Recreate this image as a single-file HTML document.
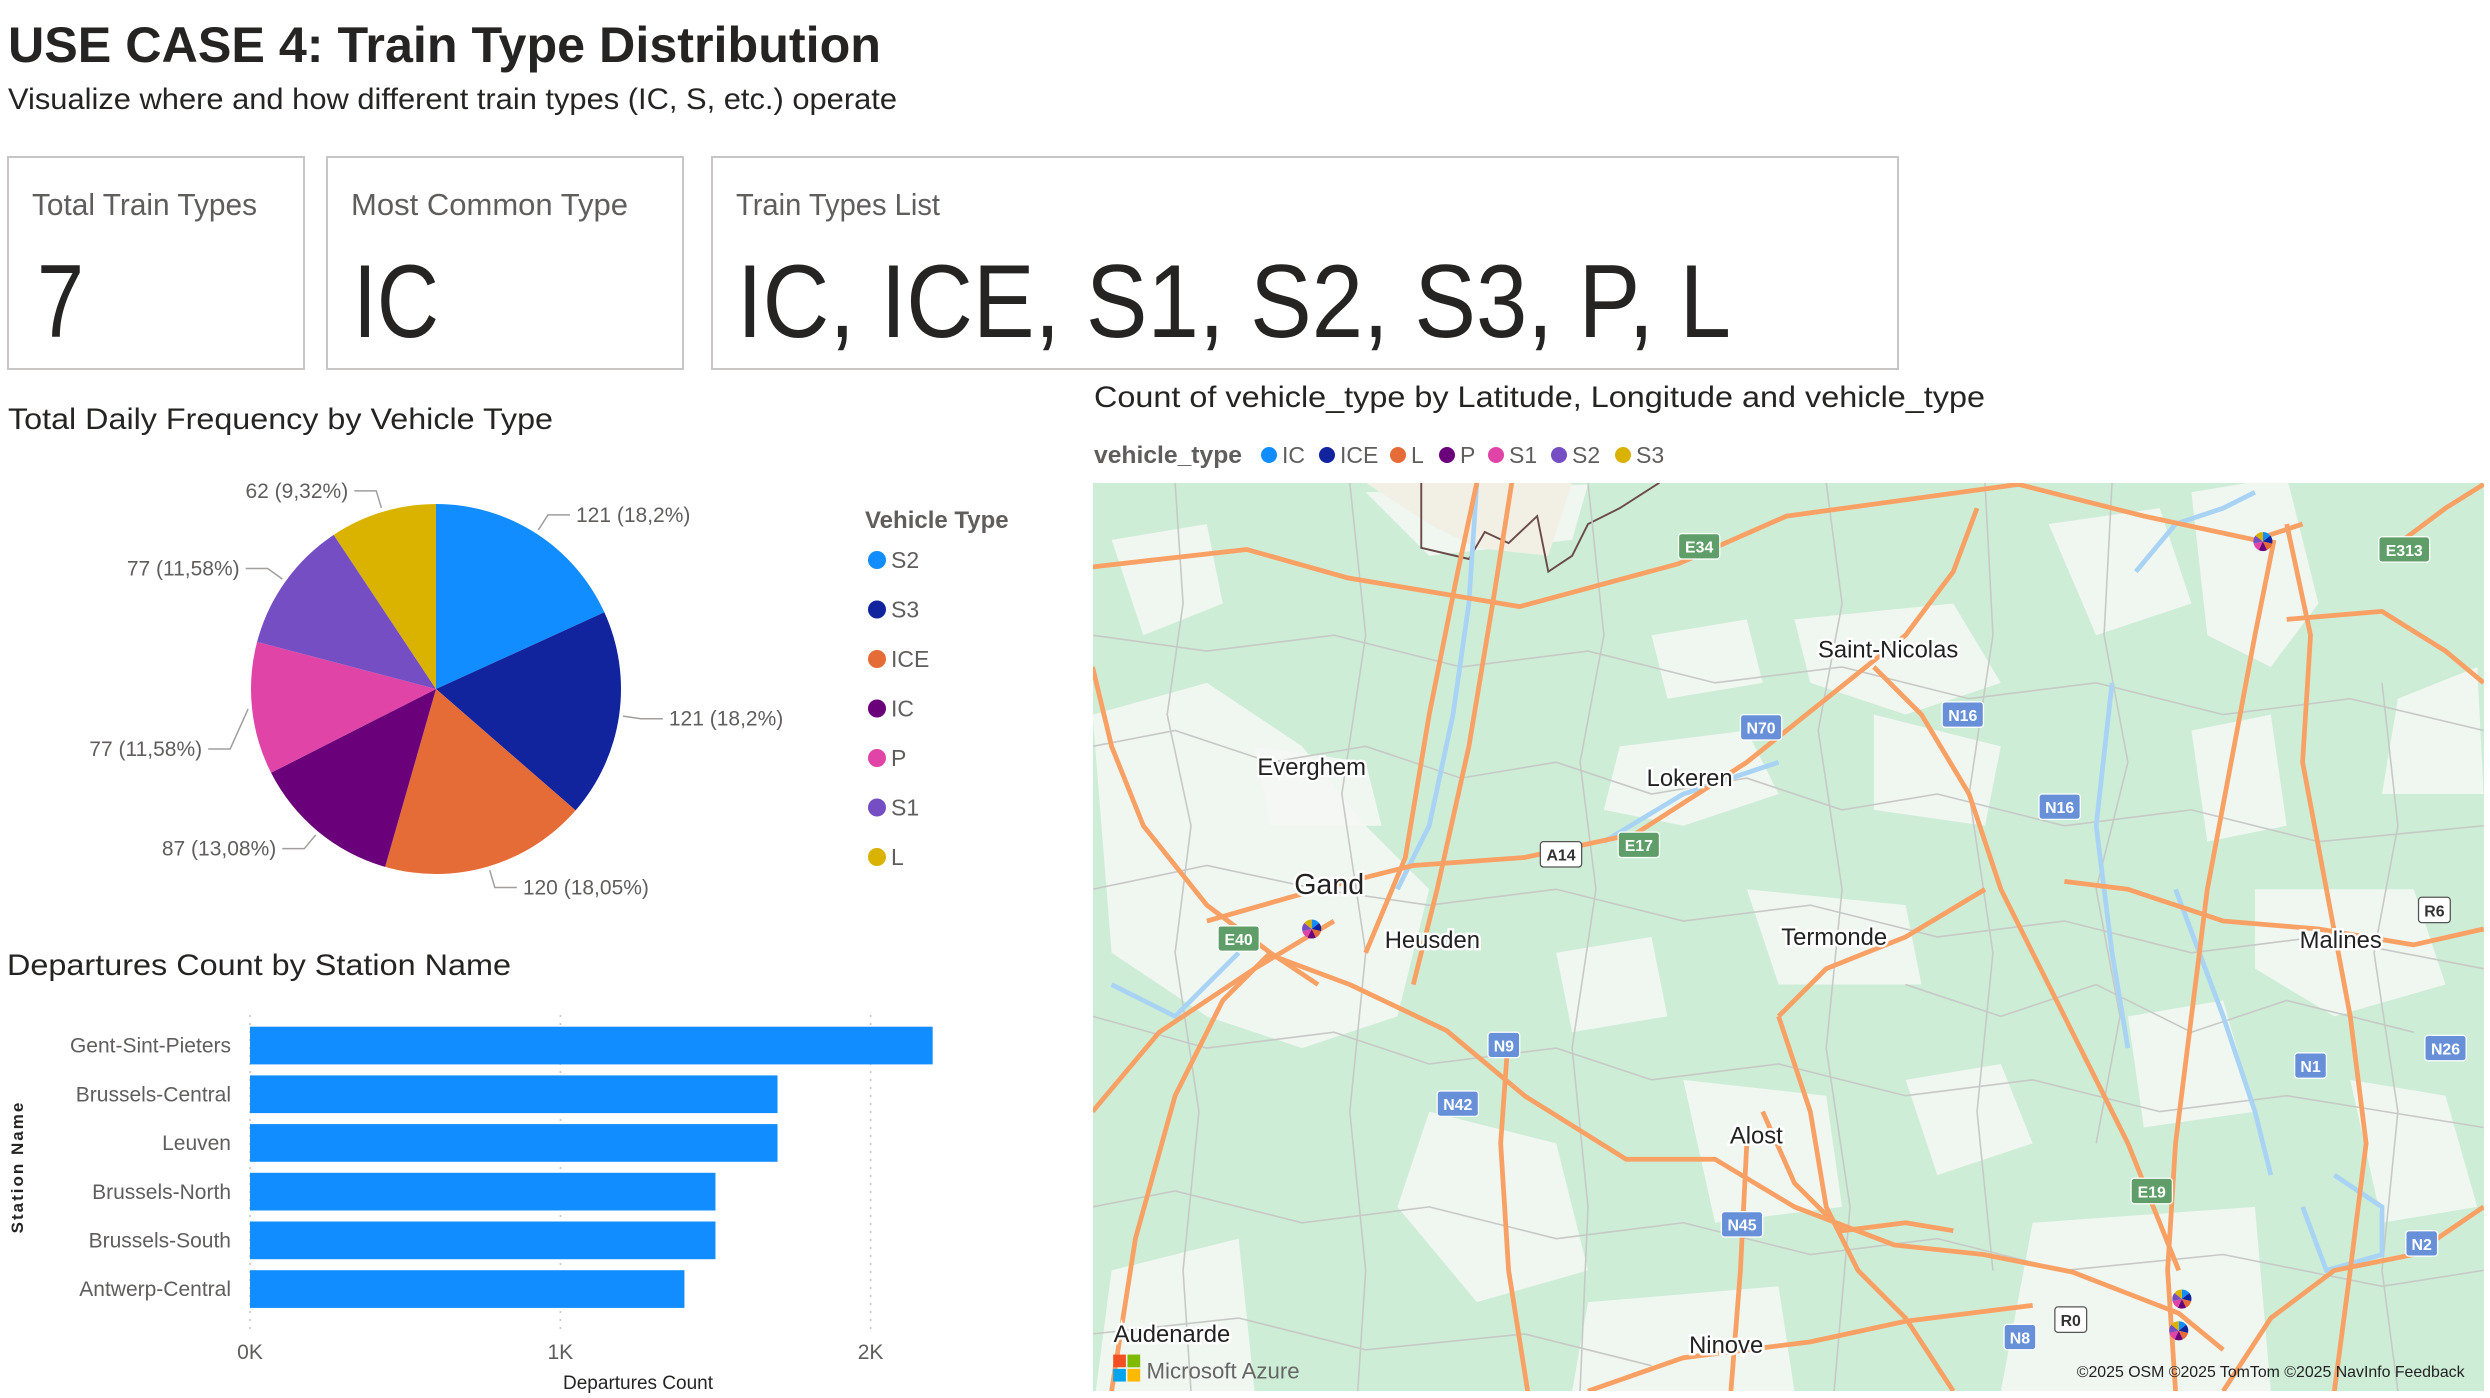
<!DOCTYPE html>
<html><head><meta charset="utf-8"><style>
html,body{margin:0;padding:0;background:#fff;width:2490px;height:1398px;overflow:hidden}
svg{display:block;font-family:"Liberation Sans",sans-serif}
</style></head><body>
<svg id="root" width="2490" height="1398" viewBox="0 0 2490 1398">
<text x="8" y="62" font-size="50" font-weight="bold" fill="#252423" textLength="873" lengthAdjust="spacingAndGlyphs">USE CASE 4: Train Type Distribution</text>
<text x="8" y="109" font-size="30" fill="#252423" textLength="889" lengthAdjust="spacingAndGlyphs">Visualize where and how different train types (IC, S, etc.) operate</text>

<g>
<rect x="8" y="157" width="296" height="212" fill="#fff" stroke="#c8c6c4" stroke-width="2"/>
<text x="32" y="215" font-size="31" fill="#605e5c" textLength="225" lengthAdjust="spacingAndGlyphs">Total Train Types</text>
<text x="37" y="337" font-size="104" fill="#252423" textLength="47" lengthAdjust="spacingAndGlyphs">7</text>
</g>
<g>
<rect x="327" y="157" width="356" height="212" fill="#fff" stroke="#c8c6c4" stroke-width="2"/>
<text x="351" y="215" font-size="31" fill="#605e5c" textLength="277" lengthAdjust="spacingAndGlyphs">Most Common Type</text>
<text x="353" y="337" font-size="104" fill="#252423" textLength="86" lengthAdjust="spacingAndGlyphs">IC</text>
</g>
<g>
<rect x="712" y="157" width="1186" height="212" fill="#fff" stroke="#c8c6c4" stroke-width="2"/>
<text x="736" y="215" font-size="31" fill="#605e5c" textLength="204" lengthAdjust="spacingAndGlyphs">Train Types List</text>
<text x="737" y="337" font-size="104" fill="#252423" textLength="994" lengthAdjust="spacingAndGlyphs">IC, ICE, S1, S2, S3, P, L</text>
</g>

<text x="8" y="429" font-size="30" fill="#252423" textLength="545" lengthAdjust="spacingAndGlyphs">Total Daily Frequency by Vehicle Type</text>
<g id="pie"></g>
<g id="pieLegend">
<text x="865" y="528" font-size="24" font-weight="bold" fill="#605e5c">Vehicle Type</text>
</g>

<text x="7" y="975" font-size="30" fill="#252423" textLength="504" lengthAdjust="spacingAndGlyphs">Departures Count by Station Name</text>
<g id="bars"></g>
<text transform="translate(23,1167) rotate(-90)" text-anchor="middle" font-size="17" font-weight="bold" fill="#252423" letter-spacing="2">Station Name</text>
<text x="638" y="1389" text-anchor="middle" font-size="19" fill="#252423">Departures Count</text>

<text x="1094" y="407" font-size="30" fill="#252423" textLength="891" lengthAdjust="spacingAndGlyphs">Count of vehicle_type by Latitude, Longitude and vehicle_type</text>
<g id="mapLegend">
<text x="1094" y="463" font-size="24" font-weight="bold" fill="#605e5c" textLength="148" lengthAdjust="spacingAndGlyphs">vehicle_type</text>
</g>

<defs><clipPath id="mapclip"><rect x="1093" y="483" width="1391" height="908"/></clipPath></defs>
<g clip-path="url(#mapclip)">
<rect x="1093" y="483" width="1391" height="908" fill="#cdedd7"/>
<g id="mapg" transform="scale(1.588)"></g>
</g>
</svg>
<script>
const NS="http://www.w3.org/2000/svg";
function mk(tag,attrs,parent){const e=document.createElementNS(NS,tag);for(const k in attrs)e.setAttribute(k,attrs[k]);if(parent)parent.appendChild(e);return e;}

// ---------- PIE DATA ----------
const pieCategories=["S2","S3","ICE","IC","P","S1","L"];
const pieValues=[121,121,120,87,77,77,62];
const pieColors=["#118DFF","#12239E","#E66C37","#6B007B","#E044A7","#744EC2","#D9B300"];
// label placement nudges (layout, not data)
const labelDy=[0,0,0,0,38,0,0];

const pie=document.getElementById('pie');
const cx=436,cy=689,R=185;
const total=pieValues.reduce((a,b)=>a+b,0);
let ang=0;
function pt(a,r){return [cx+r*Math.sin(a),cy-r*Math.cos(a)];}
function fmtPct(v){let s=(v*100).toFixed(2);s=s.replace(/0+$/,'').replace(/\.$/,'');return s.replace('.',',');}
pieValues.forEach((v,i)=>{
  const a0=ang,a1=ang+v/total*2*Math.PI;ang=a1;
  const p0=pt(a0,R),p1=pt(a1,R);
  const large=(a1-a0)>Math.PI?1:0;
  const s=mk('path',{d:`M${cx},${cy} L${p0[0]},${p0[1]} A${R},${R} 0 ${large} 1 ${p1[0]},${p1[1]} Z`,fill:pieColors[i]},pie);
  
  
  const am=(a0+a1)/2;
  const e1=pt(am,R+4),e2=pt(am,R+22);
  const ey=e2[1]+labelDy[i];
  const right=Math.sin(am)>=0;
  const hx=e2[0]+(right?22:-22);
  const l=mk('polyline',{points:`${e1[0]},${e1[1]} ${e2[0]},${ey} ${hx},${ey}`,fill:'none',stroke:'#a19f9d','stroke-width':1.5},pie);
  
  
  const t=mk('text',{x:hx+(right?6:-6),y:ey+7,'font-size':21,fill:'#605e5c','text-anchor':right?'start':'end'},pie);
  t.textContent=v+' ('+fmtPct(v/total)+'%)';
  
  
});
const pl=document.getElementById('pieLegend');
pieCategories.forEach((c,i)=>{
  const y=560+i*49.5;
  const d=mk('circle',{cx:877,cy:y,r:9,fill:pieColors[i]},pl);
  
  
  const t=mk('text',{x:891,y:y+8,'font-size':23,fill:'#605e5c'},pl);
  t.textContent=c;
  
  
});

// ---------- BAR DATA ----------
const stations=["Gent-Sint-Pieters","Brussels-Central","Leuven","Brussels-North","Brussels-South","Antwerp-Central"];
const departures=[2200,1700,1700,1500,1500,1400];
const xTicks=[0,1000,2000];
const xTickLabels=["0K","1K","2K"];

const bars=document.getElementById('bars');
const x0=250,pxPer=0.3103;
function xs(v){return x0+v*pxPer;}
xTicks.forEach((t,i)=>{
  const g=mk('line',{x1:xs(t),x2:xs(t),y1:1015,y2:1330,stroke:'#c8c6c4','stroke-width':1.5,'stroke-dasharray':'2,6'},bars);
  
  
  const tl=mk('text',{x:xs(t),y:1359,'text-anchor':'middle','font-size':21,fill:'#605e5c'},bars);
  tl.textContent=xTickLabels[i];
  
  
});
stations.forEach((s,i)=>{
  const y=1026.7+i*48.7;
  const b=mk('rect',{x:x0,y:y,width:xs(departures[i])-x0,height:37.7,fill:'#118DFF'},bars);
  
  
  const t=mk('text',{x:231,y:y+26,'text-anchor':'end','font-size':21,fill:'#605e5c'},bars);
  t.textContent=s;
  
  
});

// ---------- MAP LEGEND ----------
const mapTypes=["IC","ICE","L","P","S1","S2","S3"];
const mapColors=["#118DFF","#12239E","#E66C37","#6B007B","#E044A7","#744EC2","#D9B300"];
const mapLegDot=[1269,1327,1398,1447,1496,1559,1623];
const ml=document.getElementById('mapLegend');
mapTypes.forEach((c,i)=>{
  const d=mk('circle',{cx:mapLegDot[i],cy:455,r:8,fill:mapColors[i]},ml);
  
  
  const t=mk('text',{x:mapLegDot[i]+13,y:463,'font-size':23,fill:'#605e5c'},ml);
  t.textContent=c;
  
  
});

// ---------- MAP (main-image coords, scaled) ----------
const mg=document.getElementById('mapg');
const whites=[
 "688,450 760,430 820,470 860,520 900,560 880,640 820,660 760,640 700,600",
 "790,470 860,480 870,520 800,520",
 "1020,470 1100,460 1120,500 1060,520 1010,510",
 "1130,390 1230,380 1260,430 1200,450 1140,430",
 "1380,310 1440,300 1460,380 1430,420 1390,400",
 "1100,560 1200,570 1210,620 1120,620",
 "1420,560 1520,560 1540,620 1470,640 1420,610",
 "1060,680 1150,690 1160,760 1080,770",
 "1280,770 1420,760 1430,876 1260,876",
 "900,700 980,720 1000,800 930,820 880,760",
 "1000,820 1120,810 1130,876 990,876",
 "1180,450 1260,470 1250,520 1180,510",
 "700,800 780,780 790,876 690,876",
 "1340,640 1400,630 1420,700 1350,710",
 "980,600 1040,590 1050,640 990,650",
 "1560,420 1564,500 1500,500 1510,440",
 "860,310 1000,305 990,340 900,350",
 "1290,330 1360,320 1380,380 1320,400",
 "1200,680 1260,670 1280,720 1220,740",
 "1480,680 1540,690 1560,760 1500,770",
 "700,340 760,330 770,380 720,400",
 "1040,400 1100,390 1110,430 1050,440",
 "1380,460 1430,450 1440,520 1390,530"
];
whites.forEach(p=>{const w=mk('polygon',{points:p,fill:'#f6f7f4',opacity:0.85},mg);
 
 });
mk('polygon',{points:"860,304 990,304 975,350 930,345 900,330",fill:'#f2f0e4'},mg);
mk('polyline',{points:"895,304 895,345 925,352 935,335 950,342 968,325 975,360 990,350 1000,330 1020,320 1045,304",fill:'none',stroke:'#6b4a4a','stroke-width':1.2},mg);
const grays=[
 "688,470 740,460 800,480 860,470 920,490 980,480 1040,500 1100,490 1160,510 1220,500 1300,520 1380,510 1460,530 1564,520",
 "688,640 760,660 840,650 900,670 980,660 1040,680 1120,670 1200,690 1280,680 1360,700 1440,690 1564,710",
 "688,760 740,750 820,770 900,760 980,780 1060,770 1140,790 1220,780 1300,800 1400,790 1500,810 1564,800",
 "688,840 780,830 860,850 960,840 1040,860",
 "688,400 760,410 840,400 920,420 1000,410 1080,430 1160,420 1240,440 1320,430 1400,450 1480,440 1564,460",
 "688,560 760,545 830,560 900,570 980,560 1060,580 1140,570 1220,590 1300,580 1380,600 1460,590 1564,610",
 "740,304 745,380 735,450 750,520 740,600 755,700 745,800 750,876",
 "1000,304 1010,400 995,480 1005,560 990,660 1000,760 995,876",
 "1150,304 1160,380 1145,460 1160,560 1150,660 1165,760 1155,876",
 "1330,304 1325,400 1340,480 1320,560 1335,640 1320,720",
 "1500,430 1510,520 1495,600 1510,700 1500,800 1510,876",
 "850,304 860,400 845,500 860,600 850,700 860,800 855,876",
 "1250,304 1255,400 1240,500 1255,600 1245,700 1255,800",
 "1200,620 1260,640 1320,620 1380,650 1440,630 1520,650"
];
grays.forEach(p=>{const g=mk('polyline',{points:p,fill:'none',stroke:'#c7c9c6','stroke-width':1},mg);
 
 });
const rivers=["930,304 925,380 915,450 900,520 880,560","1345,360 1370,330 1400,320 1420,310","1330,430 1320,520 1330,600 1340,660","1370,560 1400,640 1420,700 1430,740","1010,530 1060,500 1120,480","700,620 740,640 780,600","1470,740 1500,760 1500,790 1465,800 1450,760"];
rivers.forEach(p=>{const r=mk('polyline',{points:p,fill:'none',stroke:'#a9d3f5','stroke-width':3},mg);
 
 });
const roads=[
 "688,357 785,346 849,364 957,382 1057,355 1125,325 1271,305 1350,325 1420,340 1450,330",
 "930,304 918,360 900,450 885,540 860,600",
 "952,304 940,380 925,470 905,560 890,620",
 "688,420 700,470 720,520 760,570 800,600 830,620",
 "799,601 850,620 911,649 960,690 1024,730 1080,730 1130,760 1193,784 1249,790 1305,801 1372,827 1400,850",
 "760,580 830,560 890,545 960,540 1030,525 1100,480 1150,440 1200,400 1230,360 1245,320",
 "1180,420 1210,450 1240,500 1260,560 1300,640 1340,720 1372,800",
 "1432,340 1420,400 1405,480 1390,560 1380,640 1370,720 1365,800 1370,876",
 "1440,330 1455,400 1450,480 1465,560 1480,640 1490,720 1480,800 1470,876",
 "1500,350 1540,320 1564,305",
 "1440,390 1500,385 1540,410 1564,430",
 "1000,876 1060,855 1140,845 1200,832 1280,822",
 "700,876 715,780 740,690 770,630 800,600",
 "950,650 945,720 950,800 962,876",
 "1100,720 1096,800 1090,876",
 "1250,560 1200,590 1150,610 1120,640",
 "1300,555 1340,560 1400,580 1460,585 1520,595 1564,585",
 "1110,700 1130,745 1160,775 1200,770 1230,775",
 "688,700 730,650 790,610 840,580",
 "1120,640 1140,700 1150,760 1170,800 1200,830 1230,876",
 "1564,760 1520,790 1470,800 1430,830 1400,876"
];
roads.forEach(p=>{const r=mk('polyline',{points:p,fill:'none',stroke:'#f9a064','stroke-width':3,'stroke-linejoin':'round'},mg);
 
 });
const shields=[["E34",1070,344,"g"],["E313",1514,346,"g"],["N70",1109,458,"b"],["N16",1236,450,"b"],["N16",1297,508,"b"],["A14",983,538,"w"],["E17",1032,532,"g"],["E40",780,591,"g"],["R6",1533,573,"w"],["N9",947,658,"b"],["N42",918,695,"b"],["N1",1455,671,"b"],["N26",1540,660,"b"],["E19",1355,750,"g"],["N45",1097,771,"b"],["N2",1525,783,"b"],["R0",1304,831,"w"],["N8",1272,842,"b"]];
shields.forEach(s=>{
 const w=s[0].length*6+8;
 const fill=s[3]=="g"?"#5f9e68":s[3]=="b"?"#6790d8":"#ffffff";
 const g=mk('g',{},mg);
 
 
 mk('rect',{x:s[1]-w/2,y:s[2]-8,width:w,height:16,rx:2,fill:fill,stroke:s[3]=="w"?"#555":"#fff","stroke-width":0.8},g);
 const t=mk('text',{x:s[1],y:s[2]+4,'text-anchor':'middle','font-size':10,'font-weight':'bold',fill:s[3]=="w"?"#333":"#fff"},g);
 t.textContent=s[0];
});
const places=[["Saint-Nicolas",1189,414,15],["Everghem",826,488,15],["Lokeren",1064,495,15],["Gand",837,563,18],["Heusden",902,597,15],["Termonde",1155,595,15],["Malines",1474,597,15],["Alost",1106,720,15],["Audenarde",738,845,15],["Ninove",1087,852,15]];
places.forEach(p=>{
 const t=mk('text',{x:p[1],y:p[2],'text-anchor':'middle','font-size':p[3],fill:'#222',stroke:'#fff','stroke-width':3,'paint-order':'stroke'},mg);
 t.textContent=p[0];
 
 
});
const markers=[[826,585],[1425,341],[1374,818],[1372,838]];
markers.forEach(m=>{
 const g=mk('g',{},mg);
 
 
 mapColors.forEach((c,i)=>{
  const a0=i/7*2*Math.PI,a1=(i+1)/7*2*Math.PI,r=6;
  mk('path',{d:`M${m[0]},${m[1]} L${m[0]+r*Math.sin(a0)},${m[1]-r*Math.cos(a0)} A${r},${r} 0 0 1 ${m[0]+r*Math.sin(a1)},${m[1]-r*Math.cos(a1)} Z`,fill:c},g);
 });
});
const lg=mk('g',{},mg);


mk('rect',{x:701,y:853,width:8,height:8,fill:'#f25022'},lg);
mk('rect',{x:710,y:853,width:8,height:8,fill:'#7fba00'},lg);
mk('rect',{x:701,y:862,width:8,height:8,fill:'#00a4ef'},lg);
mk('rect',{x:710,y:862,width:8,height:8,fill:'#ffb900'},lg);
const az=mk('text',{x:722,y:868,'font-size':14,fill:'#666'},lg);az.textContent="Microsoft Azure";
const at=mk('text',{x:1552,y:867,'text-anchor':'end','font-size':10,fill:'#222'},mg);
at.textContent="©2025 OSM  ©2025 TomTom  ©2025 NavInfo  Feedback";


</script>
</body></html>
